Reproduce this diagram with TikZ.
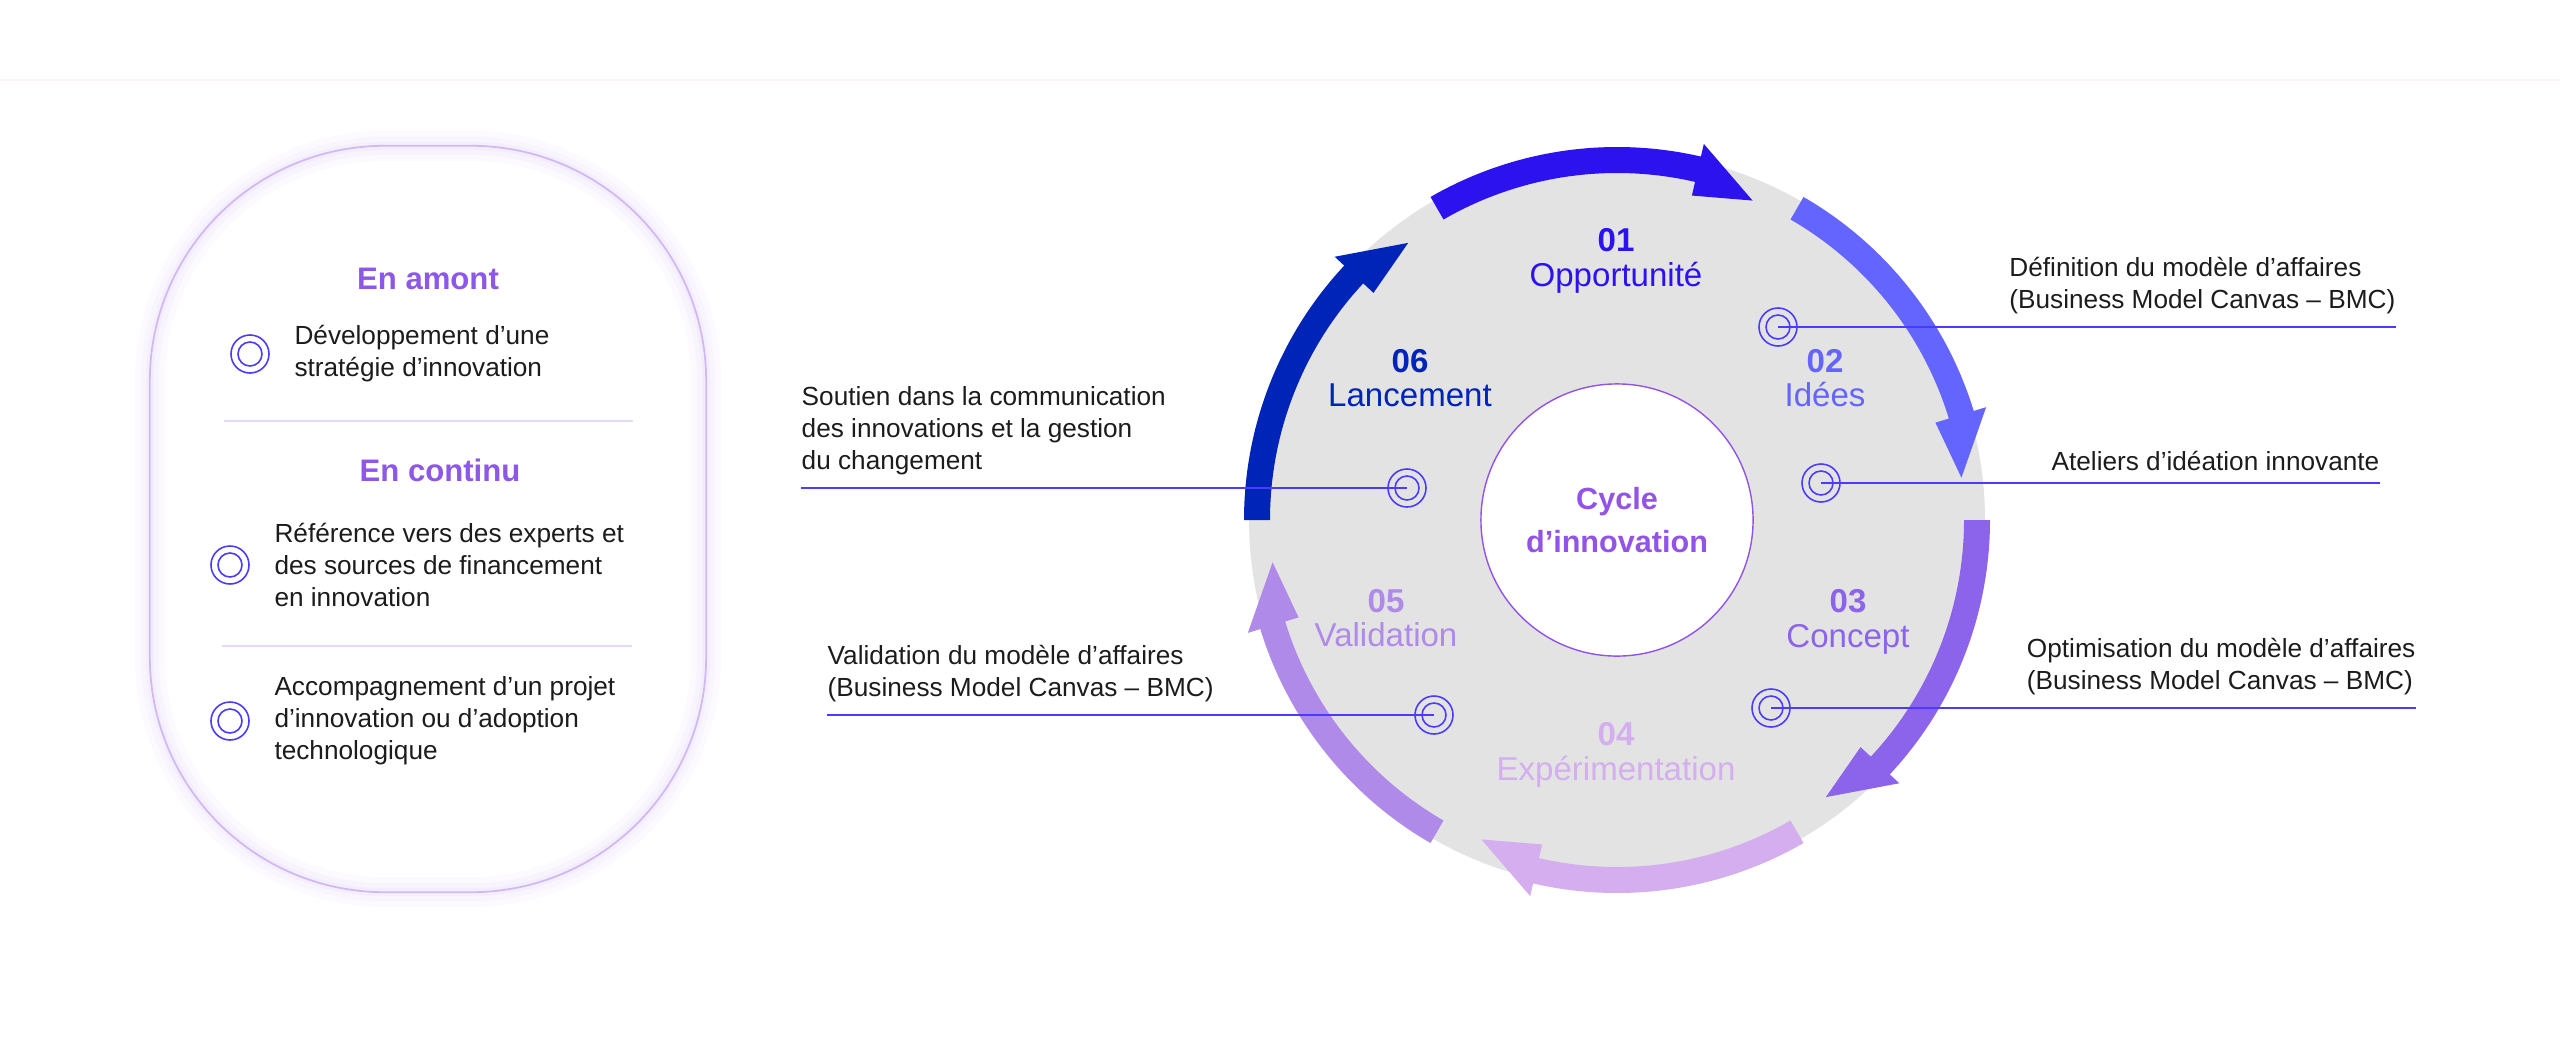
\documentclass[tikz,border=0pt]{standalone}
\usepackage{fontspec}
\setmainfont{Liberation Sans}
\usepackage{tikz}
\usetikzlibrary{positioning,calc}
\definecolor{opp}{HTML}{2D12F0}
\definecolor{ide}{HTML}{6464FF}
\definecolor{con}{HTML}{8C64EB}
\definecolor{exper}{HTML}{D4AEEE}
\definecolor{valid}{HTML}{B08AE8}
\definecolor{lanc}{HTML}{0024B8}
\definecolor{disk}{HTML}{E3E3E3}
\definecolor{hubtext}{HTML}{9353E6}
\definecolor{hdrpurple}{HTML}{8D57E8}
\definecolor{linkblue}{HTML}{4A3CFF}
\definecolor{ink}{HTML}{1C1C1C}
\definecolor{rim}{HTML}{D6C2F5}
\definecolor{glow}{HTML}{B68CF0}
\definecolor{hairline}{HTML}{E6D8F8}
\definecolor{topline}{HTML}{FDF4F6}
\newcommand{\cyclearrow}[2]{%
  \fill[#1] ($(C)+(#2:373)$) arc[start angle=#2, end angle=#2-43, radius=373]
    -- ($(C)+(#2-43:386)$) -- ($(C)+(#2-53:347)$) -- ($(C)+(#2-43:333)$)
    -- ($(C)+(#2-43:347)$) arc[start angle=#2-43, end angle=#2, radius=347] -- cycle;}
\tikzset{
  panel/.style   = {rectangle, rounded corners=2.35cm, minimum width=5.56cm, minimum height=7.46cm,
                    fill=white, draw=rim, line width=0.5pt,
                    postaction={draw=glow, line width=0.3cm, opacity=0.04},
                    postaction={draw=glow, line width=0.18cm, opacity=0.05},
                    postaction={draw=glow, line width=0.08cm, opacity=0.06}},
  ring/.style    = {circle, draw=linkblue, line width=0.45pt, minimum size=0.38cm, inner sep=0pt,
                    path picture={\draw[linkblue, line width=0.45pt]
                      (path picture bounding box.center) circle[radius=0.12cm];}},
  link/.style    = {draw=linkblue, line width=0.45pt},
  side/.style    = {align=left, inner sep=0pt, text=ink, font=\fontsize{7.45}{9.1}\selectfont},
  item/.style    = {align=left, inner sep=0pt, text=ink, font=\fontsize{7.45}{9.1}\selectfont},
  hdr/.style     = {inner sep=0pt, text=#1, font=\bfseries\fontsize{8.85}{10}\selectfont},
  stage/.style   = {align=center, inner sep=0pt, text=#1, font=\fontsize{9.4}{9.8}\selectfont},
  hub/.style     = {circle, fill=white, draw=hubtext, line width=0.4pt, minimum size=2.72cm,
                    align=center, text=hubtext, font=\bfseries\fontsize{8.7}{12.2}\selectfont},
  divider/.style = {draw=hairline, line width=0.5pt},
}
\begin{document}
\begin{tikzpicture}[x=0.01cm, y=0.01cm]
  \useasboundingbox (0,0) rectangle (2560,1041);
  \draw[topline, line width=0.3pt] (0,961) -- (2560,961);

  \node[panel] (box) at (428,522) {};
  \node[hdr=hdrpurple] (amont) at (428,762) {En amont};
  \node[ring] (a1) at (250,687) {};
  \node[item, right=0.24cm of a1] (p1) {Développement d’une\\stratégie d’innovation};
  \draw[divider] (224,620) -- (633,620);
  \node[hdr=hdrpurple] (continu) at (440,571) {En continu};
  \node[ring] (a2) at (230,476) {};
  \node[item, right=0.24cm of a2] (p2) {Référence vers des experts et\\des sources de financement\\en innovation};
  \draw[divider] (222,395) -- (632,395);
  \node[ring] (a3) at (230,320) {};
  \node[item, right=0.24cm of a3] (p3) {Accompagnement d’un projet\\d’innovation ou d’adoption\\technologique};

  \coordinate (C) at (1617,521);
  \fill[disk] (C) circle[radius=368];
  \cyclearrow{opp}{120}
  \cyclearrow{ide}{60}
  \cyclearrow{con}{0}
  \cyclearrow{exper}{-60}
  \cyclearrow{valid}{-120}
  \cyclearrow{lanc}{180}
  \node[hub] (hub) at (C) {Cycle\\d’innovation};

  \node[stage=opp] (s1) at (1616,780) {\textbf{01}\\Opportunité};
  \node[stage=ide] (s2) at (1825,663) {\textbf{02}\\Idées};
  \node[stage=con] (s3) at (1848,419) {\textbf{03}\\Concept};
  \node[stage=exper] (s4) at (1616,286) {\textbf{04}\\Expérimentation};
  \node[stage=valid] (s5) at (1386,423) {\textbf{05}\\Validation};
  \node[stage=lanc] (s6) at (1410,663) {\textbf{06}\\Lancement};

  \node[ring] (r1) at (1778,714) {};
  \node[ring] (r2) at (1821,558) {};
  \node[ring] (r3) at (1771,333) {};
  \node[ring] (r5) at (1434,326) {};
  \node[ring] (r6) at (1407,553) {};
  \coordinate (e1) at (2396,714);
  \coordinate (e2) at (2380,558);
  \coordinate (e3) at (2416,333);
  \coordinate (e5) at (827,326);
  \coordinate (e6) at (801,553);
  \draw[link] (r1.center) -- (e1);
  \draw[link] (r2.center) -- (e2);
  \draw[link] (r3.center) -- (e3);
  \draw[link] (r5.center) -- (e5);
  \draw[link] (r6.center) -- (e6);
  \node[side, above left=0.12cm and 0cm of e1] (t1) {Définition du modèle d’affaires\\(Business Model Canvas – BMC)};
  \node[side, above left=0.12cm and 0cm of e2] (t2) {Ateliers d’idéation innovante};
  \node[side, above left=0.12cm and 0cm of e3] (t3) {Optimisation du modèle d’affaires\\(Business Model Canvas – BMC)};
  \node[side, above right=0.12cm and 0cm of e5] (t5) {Validation du modèle d’affaires\\(Business Model Canvas – BMC)};
  \node[side, above right=0.12cm and 0cm of e6] (t6) {Soutien dans la communication\\des innovations et la gestion\\du changement};
\end{tikzpicture}
\end{document}
